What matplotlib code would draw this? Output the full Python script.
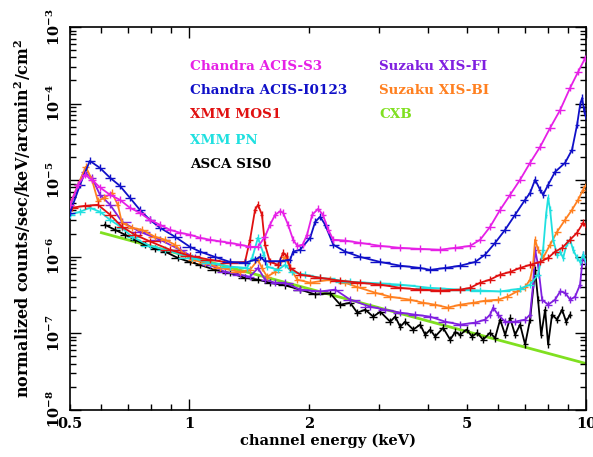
import numpy as np
import matplotlib
matplotlib.use("Agg")
import matplotlib.pyplot as plt
from matplotlib.ticker import FixedLocator, FuncFormatter, LogLocator, NullFormatter

# --- spectra: energy (keV), normalized counts ---
s3_e = [0.50, 0.524, 0.545, 0.568, 0.595, 0.631, 0.668, 0.708, 0.750, 0.795, 0.843, 0.893, 0.946,
        1.003, 1.063, 1.126, 1.194, 1.266, 1.342, 1.422, 1.489, 1.551, 1.597, 1.645, 1.693, 1.723,
        1.774, 1.826, 1.870, 1.93, 1.98, 2.04, 2.112, 2.17, 2.24, 2.305, 2.471, 2.696, 3.028, 3.40,
        3.819, 4.288, 4.678, 5.104, 5.409, 5.731, 6.074, 6.437, 6.821, 7.228, 7.661, 8.119, 8.604,
        9.118, 9.551, 9.947]
s3_v = [4.75e-6, 8.65e-6, 1.17e-5, 1.01e-5, 8.0e-6, 6.41e-6, 5.52e-6, 4.34e-6, 3.73e-6, 3.02e-6,
        2.60e-6, 2.24e-6, 2.05e-6, 1.93e-6, 1.76e-6, 1.66e-6, 1.58e-6, 1.51e-6, 1.43e-6, 1.34e-6,
        1.34e-6, 1.82e-6, 2.60e-6, 3.52e-6, 3.9e-6, 3.73e-6, 2.60e-6, 1.66e-6, 1.38e-6, 1.43e-6,
        1.93e-6, 3.52e-6, 4.2e-6, 3.52e-6, 2.24e-6, 1.66e-6, 1.62e-6, 1.51e-6, 1.38e-6, 1.30e-6,
        1.26e-6, 1.23e-6, 1.30e-6, 1.38e-6, 1.66e-6, 2.45e-6, 4.08e-6, 6.41e-6, 1.01e-5, 1.68e-5,
        2.71e-5, 4.8e-5, 8.2e-5, 1.6e-4, 2.59e-4, 3.9e-4]

i3_e = [0.50, 0.530, 0.561, 0.595, 0.631, 0.668, 0.708, 0.750, 0.795, 0.843, 0.919, 1.003, 1.063,
        1.16, 1.266, 1.381, 1.464, 1.507, 1.551, 1.693, 1.795, 1.826, 1.903, 2.016, 2.076, 2.137,
        2.20, 2.305, 2.471, 2.696, 3.028, 3.40, 3.819, 4.047, 4.415, 4.816, 5.254, 5.568, 5.90,
        6.253, 6.626, 7.022, 7.228, 7.441, 7.661, 7.795, 8.025, 8.358, 8.857, 9.22, 9.495, 9.662,
        9.775, 9.89, 10.0]
i3_v = [3.73e-6, 8.65e-6, 1.78e-5, 1.44e-5, 1.07e-5, 8.4e-6, 5.86e-6, 4.08e-6, 3.02e-6, 2.38e-6,
        1.82e-6, 1.34e-6, 1.16e-6, 9.9e-7, 8.5e-7, 8.3e-7, 9.1e-7, 9.9e-7, 8.7e-7, 8.7e-7, 9.1e-7,
        1.16e-6, 1.23e-6, 1.76e-6, 2.85e-6, 3.31e-6, 2.60e-6, 1.43e-6, 1.16e-6, 9.9e-7, 8.5e-7,
        7.6e-7, 7.1e-7, 6.7e-7, 7.1e-7, 7.6e-7, 8.5e-7, 1.06e-6, 1.51e-6, 2.24e-6, 3.52e-6, 5.52e-6,
        6.8e-6, 1.01e-5, 7.45e-6, 6.41e-6, 8.65e-6, 1.28e-5, 1.68e-5, 2.48e-5, 5.26e-5, 9.6e-5,
        1.18e-4, 8.2e-5, 6.5e-5]

mos_e = [0.505, 0.545, 0.588, 0.631, 0.676, 0.729, 0.795, 0.893, 1.003, 1.126, 1.266, 1.381, 1.422,
         1.464, 1.489, 1.524, 1.551, 1.597, 1.673, 1.723, 1.76, 1.795, 1.903, 2.137, 2.40, 2.696,
         3.028, 3.40, 3.819, 4.288, 4.816, 5.104, 5.409, 5.731, 6.074, 6.437, 6.821, 7.228, 7.661,
         8.025, 8.358, 8.704, 9.118, 9.495, 9.832, 10.0]
mos_v = [4.34e-6, 4.6e-6, 4.75e-6, 3.52e-6, 2.45e-6, 1.93e-6, 1.58e-6, 1.23e-6, 1.02e-6, 9.1e-7,
         8.3e-7, 8.5e-7, 1.66e-6, 4.08e-6, 4.75e-6, 3.52e-6, 1.43e-6, 8.5e-7, 7.8e-7, 1.12e-6,
         1.02e-6, 7.1e-7, 5.8e-7, 5.28e-7, 4.83e-7, 4.55e-7, 4.3e-7, 3.9e-7, 3.7e-7, 3.6e-7, 3.7e-7,
         3.9e-7, 4.55e-7, 5.0e-7, 5.8e-7, 6.3e-7, 7.1e-7, 7.8e-7, 8.5e-7, 9.6e-7, 1.16e-6, 1.30e-6,
         1.66e-6, 2.05e-6, 2.76e-6, 2.45e-6]

pn_e = [0.50, 0.530, 0.561, 0.595, 0.631, 0.676, 0.716, 0.795, 0.868, 1.014, 1.126, 1.266, 1.397,
        1.44, 1.489, 1.54, 1.570, 1.673, 1.743, 1.81, 1.959, 2.137, 2.544, 3.028, 3.40, 4.047,
        4.816, 5.409, 6.074, 6.821, 7.228, 7.57, 7.795, 7.93, 8.025, 8.119, 8.261, 8.456, 8.604,
        8.755, 8.961, 9.118, 9.277, 9.495, 9.662, 9.832, 10.0]
pn_v = [3.52e-6, 3.85e-6, 4.34e-6, 3.85e-6, 3.02e-6, 2.38e-6, 1.82e-6, 1.38e-6, 1.23e-6, 9.6e-7,
        8.3e-7, 7.4e-7, 7.1e-7, 9.6e-7, 1.76e-6, 1.06e-6, 7.4e-7, 6.7e-7, 7.8e-7, 6.3e-7, 5.8e-7,
        5.28e-7, 4.69e-7, 4.45e-7, 4.3e-7, 3.9e-7, 3.7e-7, 3.6e-7, 3.5e-7, 3.8e-7, 4.3e-7, 5.8e-7,
        1.23e-6, 3.52e-6, 5.86e-6, 4.08e-6, 1.66e-6, 1.06e-6, 1.16e-6, 9.6e-7, 1.51e-6, 1.66e-6,
        1.23e-6, 9.6e-7, 8.5e-7, 1.06e-6, 8.5e-7]

bi_e = [0.50, 0.524, 0.548, 0.568, 0.588, 0.61, 0.638, 0.66, 0.676, 0.716, 0.759, 0.818, 0.868,
        0.919, 0.974, 1.014, 1.094, 1.194, 1.342, 1.422, 1.489, 1.524, 1.570, 1.645, 1.743, 1.795,
        1.870, 2.016, 2.265, 2.471, 2.649, 2.941, 3.209, 3.604, 3.886, 4.166, 4.48, 4.816, 5.2,
        5.568, 6.0, 6.33, 6.703, 7.022, 7.228, 7.355, 7.441, 7.57, 7.795, 8.119, 8.456, 8.857,
        9.22, 9.551, 9.832, 10.0]
bi_v = [4.75e-6, 8.65e-6, 1.49e-5, 1.01e-5, 5.3e-6, 5.86e-6, 6.8e-6, 4.75e-6, 2.76e-6, 2.38e-6,
        2.24e-6, 1.82e-6, 1.66e-6, 1.43e-6, 1.06e-6, 9.1e-7, 8.3e-7, 7.1e-7, 6.3e-7, 6.7e-7, 9.1e-7,
        7.1e-7, 5.45e-7, 6.3e-7, 9.9e-7, 7.1e-7, 5.0e-7, 4.55e-7, 5.0e-7, 4.55e-7, 4.0e-7, 3.37e-7,
        2.99e-7, 2.73e-7, 2.49e-7, 2.35e-7, 2.15e-7, 2.35e-7, 2.49e-7, 2.65e-7, 2.73e-7, 2.99e-7,
        3.5e-7, 4.0e-7, 5.0e-7, 7.8e-7, 1.66e-6, 1.23e-6, 9.6e-7, 1.43e-6, 2.11e-6, 3.02e-6,
        4.08e-6, 5.52e-6, 7.45e-6, 8.65e-6]

fi_e = [0.50, 0.524, 0.542, 0.568, 0.595, 0.631, 0.676, 0.750, 0.843, 0.946, 1.032, 1.126, 1.229,
        1.342, 1.422, 1.489, 1.551, 1.645, 1.743, 1.903, 2.137, 2.331, 2.544, 2.857, 3.117, 3.40,
        3.71, 4.047, 4.415, 4.816, 5.254, 5.568, 5.731, 5.832, 6.0, 6.253, 6.626, 7.022, 7.228,
        7.355, 7.441, 7.57, 7.75, 8.025, 8.358, 8.604, 8.857, 9.118, 9.386, 9.662, 9.832, 10.0]
fi_v = [4.47e-6, 8.65e-6, 1.28e-5, 1.07e-5, 6.41e-6, 4.75e-6, 2.85e-6, 2.11e-6, 1.66e-6, 1.23e-6,
        9.6e-7, 7.8e-7, 6.3e-7, 5.8e-7, 5.45e-7, 7.1e-7, 5.0e-7, 4.55e-7, 4.55e-7, 3.7e-7, 3.5e-7,
        3.7e-7, 2.73e-7, 2.21e-7, 2.02e-7, 1.85e-7, 1.74e-7, 1.64e-7, 1.41e-7, 1.29e-7, 1.37e-7,
        1.50e-7, 1.74e-7, 2.15e-7, 1.74e-7, 1.41e-7, 1.41e-7, 1.50e-7, 1.74e-7, 4.3e-7, 1.23e-6,
        7.8e-7, 2.73e-7, 2.35e-7, 2.73e-7, 3.5e-7, 3.37e-7, 2.73e-7, 2.99e-7, 4.3e-7, 1.06e-6, 7.8e-7]

asca_e = [0.612, 0.649, 0.688, 0.729, 0.772, 0.818, 0.868, 0.935, 1.003, 1.063, 1.16, 1.266, 1.381,
          1.489, 1.597, 1.743, 1.903, 2.076, 2.265, 2.40, 2.544, 2.649, 2.776, 2.907, 3.028, 3.209,
          3.303, 3.40, 3.50, 3.667, 3.819, 3.931, 4.047, 4.166, 4.363, 4.545, 4.678, 4.816, 5.0,
          5.16, 5.316, 5.5, 5.731, 5.90, 6.074, 6.253, 6.437, 6.626, 6.821, 7.022, 7.228, 7.441,
          7.57, 7.71, 7.887, 8.025, 8.21, 8.456, 8.704, 8.91, 9.118]
asca_v = [2.60e-6, 2.24e-6, 1.93e-6, 1.66e-6, 1.43e-6, 1.27e-6, 1.16e-6, 9.6e-7, 8.5e-7, 7.8e-7,
          6.7e-7, 6.1e-7, 5.28e-7, 5.0e-7, 4.55e-7, 4.2e-7, 3.7e-7, 3.2e-7, 3.3e-7, 2.35e-7, 2.49e-7,
          1.85e-7, 2.02e-7, 1.64e-7, 1.9e-7, 1.41e-7, 1.64e-7, 1.21e-7, 1.41e-7, 1.11e-7, 1.29e-7,
          9.5e-8, 1.11e-7, 9.0e-8, 1.17e-7, 8.2e-8, 1.03e-7, 9.5e-8, 1.11e-7, 9.0e-8, 1.01e-7, 8.2e-8,
          1.01e-7, 8.6e-8, 1.50e-7, 9.5e-8, 1.57e-7, 9.5e-8, 1.29e-7, 7.1e-8, 1.50e-7, 6.7e-7, 2.73e-7,
          9.5e-8, 2.02e-7, 7.1e-8, 1.74e-7, 1.50e-7, 2.02e-7, 1.41e-7, 1.74e-7]

cxb_e = [0.6, 1.0, 2.0, 5.0, 10.0]
cxb_v = [2.05e-6, 1.0e-6, 3.8e-7, 1.05e-7, 4.0e-8]

labels = ["Chandra ACIS-S3", "Chandra ACIS-I0123", "XMM MOS1", "XMM PN", "ASCA SIS0",
          "Suzaku XIS-FI", "Suzaku XIS-BI", "CXB"]
colors = ["#e620e6", "#1010c8", "#e01010", "#20e0e0", "#000000",
          "#8020e0", "#ff8020", "#80e020"]

plt.rcParams['font.family'] = 'DejaVu Serif'
plt.rcParams['font.weight'] = 'bold'
plt.rcParams['mathtext.fontset'] = 'dejavuserif'
plt.rcParams['mathtext.default'] = 'bf'

fig = plt.figure(figsize=(5.93, 4.57), dpi=100)
ax = fig.add_axes([70 / 593, 1 - 409.6 / 457, 516 / 593, 382.6 / 457])


def draw_spectrum(e, v, color, z):
    e = np.array(e)
    v = np.array(v)
    le = np.log10(e)
    # horizontal half-widths from neighbouring bins
    edges = np.concatenate([[le[0] - (le[1] - le[0]) / 2], (le[1:] + le[:-1]) / 2,
                            [le[-1] + (le[-1] - le[-2]) / 2]])
    lo = e - 10 ** edges[:-1]
    hi = 10 ** edges[1:] - e
    ax.plot(e, v, color=color, lw=1.3, zorder=z)
    ax.errorbar(e, v, xerr=[lo, hi], yerr=[v * 0.1, v * 0.12], fmt='none',
                ecolor=color, elinewidth=1.0, capsize=0, zorder=z)


ax.plot(cxb_e, cxb_v, color=colors[7], lw=2, zorder=1)
series = [(asca_e, asca_v, colors[4]), (fi_e, fi_v, colors[5]), (bi_e, bi_v, colors[6]),
          (pn_e, pn_v, colors[3]), (mos_e, mos_v, colors[2]), (i3_e, i3_v, colors[1]),
          (s3_e, s3_v, colors[0])]
for k, (e, v, c) in enumerate(series):
    draw_spectrum(e, v, c, 2 + k)

ax.set_xscale('log')
ax.set_yscale('log')
ax.set_xlim(0.5, 10)
ax.set_ylim(1e-8, 1e-3)

# x ticks: long at decades, short elsewhere, labels at 0.5, 1, 2, 5, 10
ax.xaxis.set_major_locator(FixedLocator([1, 10]))
ax.xaxis.set_major_formatter(FuncFormatter(lambda x, p: '%g' % x))
ax.xaxis.set_minor_locator(FixedLocator([0.5, 0.6, 0.7, 0.8, 0.9, 2, 3, 4, 5, 6, 7, 8, 9]))
ax.xaxis.set_minor_formatter(FuncFormatter(lambda x, p: '%g' % x if x in (0.5, 2, 5) else ''))
ax.yaxis.set_major_locator(LogLocator(base=10, numticks=10))
ax.yaxis.set_minor_locator(LogLocator(base=10, subs=np.arange(2, 10), numticks=10))
ax.yaxis.set_minor_formatter(NullFormatter())

ax.tick_params(which='both', direction='in', top=True, right=True, labelsize=10.5, width=1)
ax.tick_params(which='major', length=8)
ax.tick_params(which='minor', length=4)
ax.tick_params(axis='x', which='both', pad=5)
ax.tick_params(axis='y', which='both', pad=5)
for lab in ax.get_yticklabels():
    lab.set_rotation(90)
    lab.set_va('center')
for sp in ax.spines.values():
    sp.set_linewidth(1.2)

ax.set_xlabel('channel energy (keV)', fontsize=10.5, fontweight='bold', labelpad=2)
ax.set_ylabel('normalized counts/sec/keV/arcmin$^2$/cm$^2$', fontsize=11.5,
              fontweight='bold', labelpad=9)

# coloured labels instead of a legend box
rows = [66, 90, 115, 140, 165]
for i in range(5):
    fig.text(190 / 593, 1 - rows[i] / 457, labels[i], color=colors[i], fontsize=9.7,
             fontweight='bold', va='center', ha='left')
for i in range(3):
    fig.text(379 / 593, 1 - rows[i] / 457, labels[5 + i], color=colors[5 + i], fontsize=9.7,
             fontweight='bold', va='center', ha='left')

fig.savefig('out.png', dpi=100)
